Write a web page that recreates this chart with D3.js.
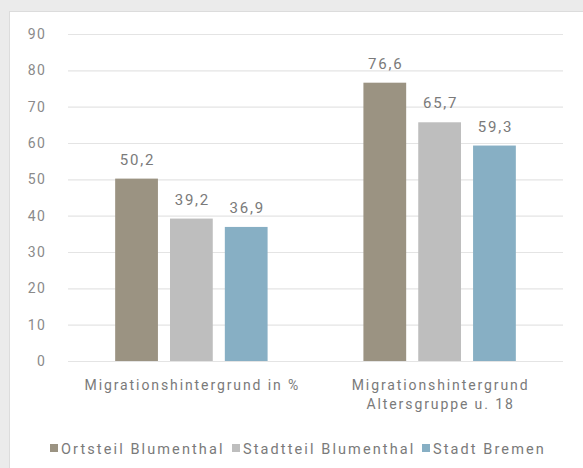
<!DOCTYPE html>
<html>
<head>
<meta charset="utf-8">
<script src="https://cdn.jsdelivr.net/npm/d3@7/dist/d3.min.js"></script>
<style>
  html, body { margin: 0; padding: 0; background: #ebebeb; }
  svg { display: block; }
  text { font-family: "Roboto", "DejaVu Sans", sans-serif; }
</style>
</head>
<body>
<svg id="chart" width="583" height="468"></svg>
<script>
// Groups on the x axis (each label may wrap onto two lines)
const categories = ["Migrationshintergrund in %", "Migrationshintergrund Altersgruppe u. 18"];
const categoryLines = [["Migrationshintergrund in %"], ["Migrationshintergrund", "Altersgruppe u. 18"]];
// Series shown in each group
const series = ["Ortsteil Blumenthal", "Stadtteil Blumenthal", "Stadt Bremen"];
const seriesColors = ["#9b9382", "#bebebe", "#87afc4"];
// Values per series, one per category
const ortsteil = [50.2, 76.6];
const stadtteil = [39.2, 65.7];
const stadt = [36.9, 59.3];
const yTicks = [0, 10, 20, 30, 40, 50, 60, 70, 80, 90];

const values = [ortsteil, stadtteil, stadt];
const fmt = v => d3.format(".1f")(v).replace(".", ",");

const svg = d3.select("#chart");

// white card on the grey page
svg.append("rect")
  .attr("x", 9.5).attr("y", 11.5)
  .attr("width", 600).attr("height", 500)
  .attr("fill", "#ffffff")
  .attr("stroke", "#dcdcdc");

const plot = { left: 68, right: 563, top: 34, bottom: 361 };

const y = d3.scaleLinear().domain([0, 90]).range([plot.bottom, plot.top]);
const x0 = d3.scaleBand().domain(categories).range([plot.left, plot.right])
  .paddingInner(0.386).paddingOuter(0.19);
const x1 = d3.scaleBand().domain(series).range([0, x0.bandwidth()]).paddingInner(0.22);
const color = d3.scaleOrdinal().domain(series).range(seriesColors);

// horizontal gridlines + tick labels
const yAxis = d3.axisLeft(y).tickValues(yTicks).tickSize(-(plot.right - plot.left)).tickPadding(22);
const gy = svg.append("g").attr("transform", `translate(${plot.left},0)`).call(yAxis);
gy.select(".domain").remove();
gy.selectAll(".tick line").attr("stroke", "#e4e4e4").attr("stroke-width", 1.2);
gy.selectAll(".tick text")
  .attr("fill", "#8a8a8a")
  .style("font-size", "14px")
  .style("letter-spacing", "1.2px");

// bars
const groups = svg.append("g").selectAll("g")
  .data(categories)
  .join("g")
  .attr("transform", d => `translate(${x0(d)},0)`);

groups.selectAll("rect")
  .data((c, ci) => series.map((s, si) => ({ s, v: values[si][ci] })))
  .join("rect")
  .attr("x", d => x1(d.s))
  .attr("width", x1.bandwidth())
  .attr("y", d => y(d.v))
  .attr("height", d => y(0) - y(d.v))
  .attr("fill", d => color(d.s));

// value labels
groups.selectAll("text.val")
  .data((c, ci) => series.map((s, si) => ({ s, v: values[si][ci] })))
  .join("text")
  .attr("class", "val")
  .attr("x", d => x1(d.s) + x1.bandwidth() / 2 + 1)
  .attr("y", d => y(d.v) - 14)
  .attr("text-anchor", "middle")
  .attr("fill", "#7a7a7a")
  .style("font-size", "15px")
  .style("letter-spacing", "1.8px")
  .text(d => fmt(d.v));

// category labels
categories.forEach((c, ci) => {
  const cx = x0(c) + x0.bandwidth() / 2 + 1;
  const t = svg.append("text")
    .attr("x", cx)
    .attr("y", 390)
    .attr("text-anchor", "middle")
    .attr("fill", "#7a7a7a")
    .style("font-size", "14px")
    .style("letter-spacing", "1.9px");
  categoryLines[ci].forEach((line, li) => {
    t.append("tspan")
      .attr("x", cx)
      .attr("dy", li === 0 ? 0 : 19)
      .text(line);
  });
});

// legend
const legendItems = [
  { s: series[0], x: 50 },
  { s: series[1], x: 232 },
  { s: series[2], x: 422 }
];
const lg = svg.append("g").selectAll("g")
  .data(legendItems)
  .join("g")
  .attr("transform", d => `translate(${d.x},449)`);
lg.append("rect")
  .attr("x", 0).attr("y", -5)
  .attr("width", 8).attr("height", 8)
  .attr("fill", d => color(d.s));
lg.append("text")
  .attr("x", 11).attr("y", 5)
  .attr("fill", "#7a7a7a")
  .style("font-size", "14.5px")
  .style("letter-spacing", "2.1px")
  .text(d => d.s);
</script>
</body>
</html>
